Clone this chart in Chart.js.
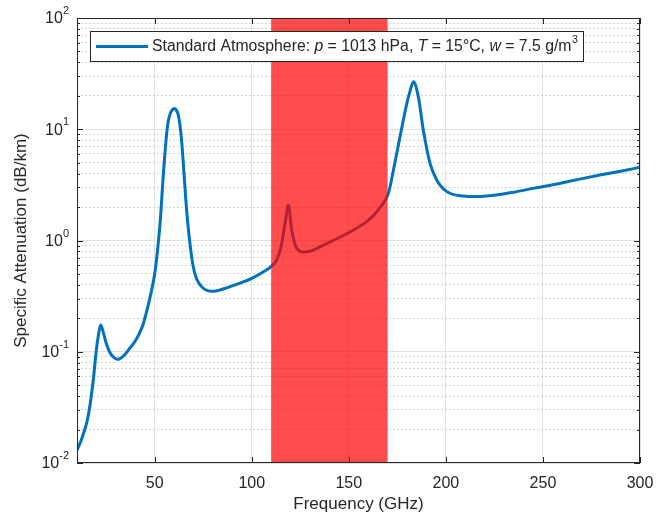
<!DOCTYPE html>
<html>
<head>
<meta charset="utf-8">
<script src="https://cdn.jsdelivr.net/npm/chart.js@4/dist/chart.umd.min.js"></script>
<style>
  body { margin: 0; background: #fff; }
  #wrap { width: 667px; height: 515px; position: relative; }
</style>
</head>
<body>
<div id="wrap"><canvas id="grafico"></canvas></div>
<script>
// frequenze (GHz) e attenuazione specifica (dB/km)
const freqs = [10, 12, 14, 15, 16, 17, 18.4, 20, 21, 22.2, 23.5, 25, 27, 29, 30.8, 34, 37.3, 40, 42, 44, 46, 48, 50, 51.1, 52.8, 54.5, 56.2, 57, 58, 59, 60.1, 61, 62, 63, 64, 65, 66, 67.3, 69.9, 74.2, 80.2, 88.8, 95, 100, 105, 109.8, 112.9, 115, 117.2, 118.9, 120.6, 123.2, 126.6, 130, 136.9, 142, 148.9, 154, 159.2, 163, 166.1, 170.4, 173, 176.4, 179.9, 181.7, 183.3, 185.8, 188.4, 191.9, 195.3, 200.5, 209, 215.9, 225, 235, 245, 255, 262, 270.8, 280, 290, 300];
const atten = [0.013, 0.0158, 0.02, 0.023, 0.028, 0.036, 0.056, 0.105, 0.14, 0.174, 0.15, 0.12, 0.098, 0.089, 0.0855, 0.092, 0.108, 0.125, 0.145, 0.175, 0.235, 0.33, 0.5, 0.71, 1.43, 4.0, 9.2, 11.8, 13.8, 14.9, 15.4, 15.0, 13.8, 11.0, 7.5, 4.3, 2.4, 1.3, 0.58, 0.385, 0.35, 0.385, 0.42, 0.457, 0.51, 0.58, 0.67, 0.86, 1.43, 2.08, 1.24, 0.85, 0.79, 0.8, 0.91, 1.0, 1.15, 1.29, 1.48, 1.7, 1.98, 2.65, 4.3, 8.6, 17.1, 22.5, 26.7, 19.6, 9.8, 4.9, 3.5, 2.75, 2.51, 2.48, 2.55, 2.72, 2.94, 3.17, 3.36, 3.62, 3.9, 4.2, 4.55];
const xTicks = [50, 100, 150, 200, 250, 300];
const yExps = [-2, -1, 0, 1, 2];
const banda = [110, 170]; // banda evidenziata in rosso

const testo = '#262626';
const fontBase = "'Liberation Sans', Arial, sans-serif";

// tick logaritmici: 1..9 per ogni decade
const yTicks = [];
yExps.forEach((e, i) => {
    if (i === yExps.length - 1) { yTicks.push(Math.pow(10, e)); return; }
    for (let m = 1; m <= 9; m++) yTicks.push(+(m * Math.pow(10, e)).toPrecision(3));
});
const isMajor = v => Math.abs(Math.log10(v) - Math.round(Math.log10(v))) < 1e-9;

const cornice = {
    id: 'cornice',
    afterDatasetsDraw(chart) {
        const { ctx, chartArea: a, scales: { x } } = chart;
        // banda rossa sopra la curva
        ctx.save();
        ctx.fillStyle = 'rgba(255, 0, 0, 0.7)';
        const x0 = x.getPixelForValue(banda[0]), x1 = x.getPixelForValue(banda[1]);
        ctx.fillRect(x0, a.top, x1 - x0, a.bottom - a.top);
        ctx.restore();
    },
    afterDraw(chart) {
        const { ctx, chartArea: a, scales: { x, y } } = chart;
        ctx.save();
        // box + tick interni
        ctx.strokeStyle = testo;
        ctx.lineWidth = 1;
        ctx.strokeRect(a.left + 0.5, a.top + 0.5, a.right - a.left - 1, a.bottom - a.top - 1);
        ctx.beginPath();
        yTicks.forEach(v => {
            const py = Math.round(y.getPixelForValue(v)) + 0.5;
            const len = isMajor(v) ? 6 : 3;
            ctx.moveTo(a.left, py); ctx.lineTo(a.left + len, py);
            ctx.moveTo(a.right, py); ctx.lineTo(a.right - len, py);
        });
        xTicks.forEach(v => {
            const px = Math.round(x.getPixelForValue(v)) + 0.5;
            ctx.moveTo(px, a.bottom); ctx.lineTo(px, a.bottom - 6);
            ctx.moveTo(px, a.top); ctx.lineTo(px, a.top + 6);
        });
        ctx.stroke();

        // etichette y con esponente
        ctx.fillStyle = testo;
        ctx.textBaseline = 'middle';
        yExps.forEach(e => {
            const py = y.getPixelForValue(Math.pow(10, e));
            const exp = String(e);
            ctx.font = '11px ' + fontBase;
            const we = ctx.measureText(exp).width;
            const right = a.left - 8;
            ctx.textAlign = 'left';
            ctx.fillText(exp, right - we, py - 7);
            ctx.font = '16px ' + fontBase;
            ctx.textAlign = 'right';
            ctx.fillText('10', right - we, py + 1);
        });

        // legenda
        const lx = 90, ly = 31, lw = 493, lh = 30;
        ctx.fillStyle = '#fff';
        ctx.fillRect(lx, ly, lw, lh);
        ctx.strokeStyle = testo;
        ctx.strokeRect(lx + 0.5, ly + 0.5, lw, lh);
        ctx.strokeStyle = '#0072BD';
        ctx.lineWidth = 3;
        ctx.beginPath();
        ctx.moveTo(96, ly + lh / 2 + 0.5); ctx.lineTo(148, ly + lh / 2 + 0.5);
        ctx.stroke();
        const pezzi = [
            ['Standard Atmosphere: ', ''], ['p', 'italic '], [' = 1013 hPa, ', ''],
            ['T', 'italic '], [' = 15°C, ', ''], ['w', 'italic '], [' = 7.5 g/m', '']
        ];
        let cx = 152;
        const cy = ly + lh / 2 + 1;
        ctx.fillStyle = testo;
        ctx.textAlign = 'left';
        pezzi.forEach(([t, st]) => {
            ctx.font = st + '15.8px ' + fontBase;
            ctx.fillText(t, cx, cy);
            cx += ctx.measureText(t).width;
        });
        ctx.font = '10.5px ' + fontBase;
        ctx.fillText('3', cx + 0.5, cy - 7);
        ctx.restore();
    }
};

const ctx = document.getElementById('grafico').getContext('2d');

new Chart(ctx, {
    type: 'line',
    data: {
        datasets: [{
            label: 'Standard Atmosphere',
            data: freqs.map((f, i) => ({ x: f, y: atten[i] })),
            borderColor: '#0072BD',
            borderWidth: 3,
            pointRadius: 0,
            cubicInterpolationMode: 'monotone',
            fill: false
        }]
    },
    options: {
        responsive: true,
        maintainAspectRatio: false,
        animation: false,
        layout: { padding: { left: 0, right: 27, top: 18, bottom: 0 } },
        plugins: { legend: { display: false }, tooltip: { enabled: false } },
        scales: {
            x: {
                type: 'linear',
                min: 10, max: 300,
                afterBuildTicks: s => { s.ticks = xTicks.map(v => ({ value: v })); },
                afterFit: s => { s.height = 52; },
                grid: { color: '#e3e3e3', drawTicks: false },
                border: { display: false },
                ticks: { color: testo, padding: 11, font: { size: 16, family: fontBase }, maxRotation: 0 },
                title: { display: true, text: 'Frequency (GHz)', color: testo, padding: { top: 0, bottom: 0 }, font: { size: 17, family: fontBase } }
            },
            y: {
                type: 'logarithmic',
                min: 0.01, max: 100,
                afterBuildTicks: s => { s.ticks = yTicks.map(v => ({ value: v })); },
                afterFit: s => { s.width = 77; },
                grid: {
                    drawTicks: false,
                    color: c => (c.tick && isMajor(c.tick.value)) ? '#e0e0e0' : '#d4d4d4'
                },
                border: {
                    display: false,
                    dash: c => (c.tick && !isMajor(c.tick.value)) ? [2, 2] : []
                },
                ticks: { display: false },
                title: { display: true, text: 'Specific Attenuation (dB/km)', color: testo, padding: { top: 11, bottom: 0 }, font: { size: 17, family: fontBase } }
            }
        }
    },
    plugins: [cornice]
});
</script>
</body>
</html>
